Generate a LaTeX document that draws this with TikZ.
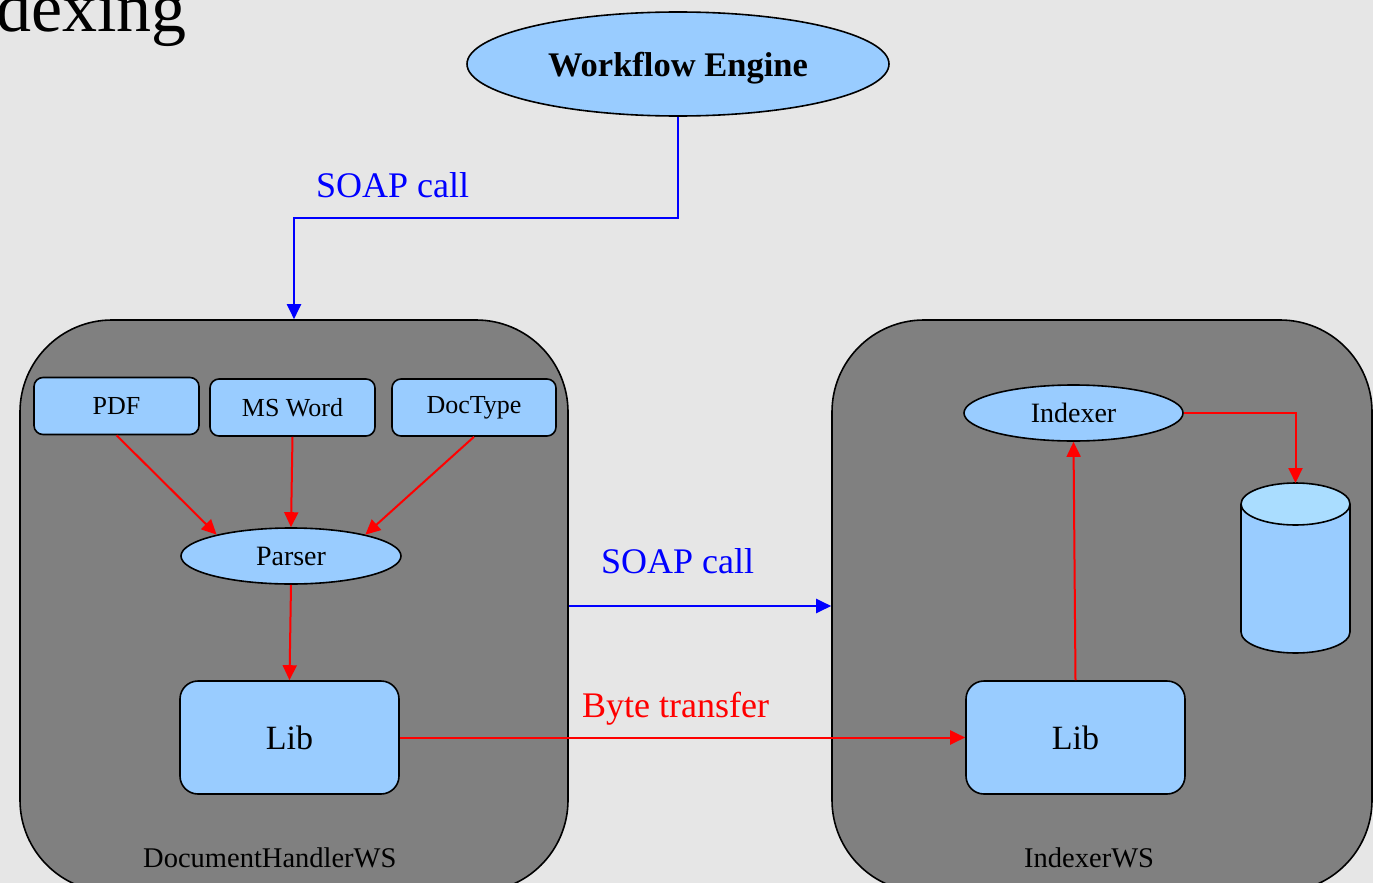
\documentclass[tikz,border=0pt]{standalone}
\usepackage{fontspec}
\setmainfont{Liberation Serif}
\usetikzlibrary{arrows.meta,shapes.geometric}
\definecolor{bg}{HTML}{E6E6E6}
\definecolor{cont}{HTML}{808080}
\definecolor{nodefill}{HTML}{99CCFF}
\definecolor{cyltop}{HTML}{AADDFF}
\begin{document}
\begin{tikzpicture}[x=1pt,y=-1pt,
  container/.style={draw=black, fill=cont, line width=1.6pt, rounded corners=92pt, inner sep=0pt},
  box/.style={draw=black, fill=nodefill, line width=1.6pt, rounded corners=9pt, inner sep=0pt,
    minimum width=165pt, minimum height=57pt, font=\fontsize{26}{30}\selectfont},
  libbox/.style={box, rounded corners=18pt, minimum width=219pt, minimum height=113pt,
    font=\fontsize{34}{40}\selectfont},
  oval/.style={ellipse, draw=black, fill=nodefill, line width=1.6pt, inner sep=0pt,
    minimum width=220pt, minimum height=56pt, font=\fontsize{28}{32}\selectfont},
  blueline/.style={draw=blue, line width=2pt, -{Triangle[length=15pt,width=14pt]}},
  redline/.style={draw=red, line width=2pt, -{Triangle[length=15pt,width=14pt]}},
  lbl/.style={anchor=base west, inner sep=0pt, font=\fontsize{36}{40}\selectfont},
  wslbl/.style={anchor=base west, inner sep=0pt, font=\fontsize{28.5}{32}\selectfont}
]
\useasboundingbox (0,0) rectangle (1373,883);
\clip (0,0) rectangle (1373,883);
\fill[bg] (0,0) rectangle (1373,883);

% title fragment
\node[anchor=base west, inner sep=0pt, font=\fontsize{70}{74}\selectfont] (title) at (-4,32) {dexing};

% containers
\node[container, minimum width=548pt, minimum height=572pt] (dh) at (294,606) {};
\node[container, minimum width=540pt, minimum height=572pt] (ix) at (1102,606) {};

% workflow engine
\node[oval, minimum width=422pt, minimum height=104pt, text depth=0pt, font=\fontsize{34.5}{38}\selectfont\bfseries] (we) at (678,64) {Workflow Engine};

% left container content
\node[box] (pdf) at (116.5,406) {PDF};
\node[box] (msw) at (292.5,407.5) {MS Word};
\node[box, minimum width=164pt] (dt) at (474,407.5) {DocType};
\node[oval] (parser) at (291,556) {Parser};
\node[libbox] (libL) at (289.5,737.5) {Lib};
\node[wslbl] (dhlbl) at (143,867) {DocumentHandlerWS};

% right container content
\node[oval, minimum width=219pt] (indexer) at (1073.5,413) {Indexer};
\node[libbox] (libR) at (1075.5,737.5) {Lib};
\node[wslbl] (ixlbl) at (1024,867) {IndexerWS};

% cylinder (database)
\fill[nodefill] (1241,504) rectangle (1350,632);
\fill[nodefill] (1295.5,632) ellipse (54.5 and 21);
\draw[line width=1.6pt] (1241,504) -- (1241,632) arc[start angle=180, end angle=0, x radius=54.5, y radius=21] -- (1350,504);
\draw[line width=1.6pt, fill=cyltop] (1295.5,504) ellipse (54.5 and 21);
\coordinate (dbtop) at (1295.5,483);

% labels
\node[lbl, text=blue] (soap1) at (316,197) {SOAP call};
\node[lbl, text=blue] (soap2) at (601,573) {SOAP call};
\node[lbl, text=red] (byte) at (582,717) {Byte transfer};

% connectors
\coordinate (bend) at (294,218);
\draw[blueline] (we.south) |- (bend) -- (dh.north);
\draw[blueline] (dh.east) -- (ix.west);
\draw[redline] (pdf.south) -- (parser.164);
\draw[redline] (msw.south) -- (parser.north);
\draw[redline] (dt.south) -- (parser.16);
\draw[redline] (parser.south) -- (libL.north);
\draw[redline] (libL.east) -- (libR.west);
\draw[redline] (libR.north) -- (indexer.south);
\draw[redline] (indexer.east) -| (dbtop);
\end{tikzpicture}
\end{document}
